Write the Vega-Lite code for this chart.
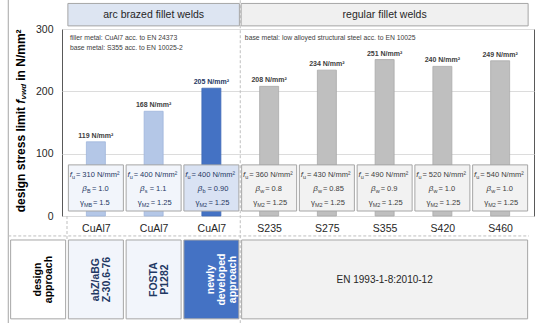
{
  "$schema": "https://vega.github.io/schema/vega-lite/v6.json",
  "width": 472,
  "height": 187,
  "autosize": {"type": "none"},
  "padding": {"left": 62, "top": 29, "right": 16, "bottom": 107},
  "background": "white",
  "config": {
    "view": {"stroke": "#595959", "strokeWidth": 1},
    "font": "Liberation Sans"
  },
  "datasets": {
    "welds": [
      {"col": 0, "material": "CuAl7", "fvwd": 119, "fu": 310, "betaSub": "B", "beta": "1.0", "gammaSub": "MB", "gamma": "1.5", "approach": "abZ/aBG Z-30.6-76"},
      {"col": 1, "material": "CuAl7", "fvwd": 168, "fu": 400, "betaSub": "s", "beta": "1.1", "gammaSub": "M2", "gamma": "1.25", "approach": "FOSTA P1282"},
      {"col": 2, "material": "CuAl7", "fvwd": 205, "fu": 400, "betaSub": "b", "beta": "0.90", "gammaSub": "M2", "gamma": "1.25", "approach": "newly developed approach"},
      {"col": 3, "material": "S235", "fvwd": 208, "fu": 360, "betaSub": "w", "beta": "0.8", "gammaSub": "M2", "gamma": "1.25", "approach": "EN 1993-1-8:2010-12"},
      {"col": 4, "material": "S275", "fvwd": 234, "fu": 430, "betaSub": "w", "beta": "0.85", "gammaSub": "M2", "gamma": "1.25", "approach": "EN 1993-1-8:2010-12"},
      {"col": 5, "material": "S355", "fvwd": 251, "fu": 490, "betaSub": "w", "beta": "0.9", "gammaSub": "M2", "gamma": "1.25", "approach": "EN 1993-1-8:2010-12"},
      {"col": 6, "material": "S420", "fvwd": 240, "fu": 520, "betaSub": "w", "beta": "1.0", "gammaSub": "M2", "gamma": "1.25", "approach": "EN 1993-1-8:2010-12"},
      {"col": 7, "material": "S460", "fvwd": 249, "fu": 540, "betaSub": "w", "beta": "1.0", "gammaSub": "M2", "gamma": "1.25", "approach": "EN 1993-1-8:2010-12"}
    ],
    "groups": [
      {"group": "arc brazed fillet welds", "first": 0, "last": 2, "mid": 1},
      {"group": "regular fillet welds", "first": 3, "last": 7, "mid": 5}
    ],
    "approaches": [
      {"approach": "design\napproach", "first": -1, "last": -1, "mid": -1},
      {"approach": "abZ/aBG\nZ-30.6-76", "first": 0, "last": 0, "mid": 0},
      {"approach": "FOSTA\nP1282", "first": 1, "last": 1, "mid": 1},
      {"approach": "newly\ndeveloped\napproach", "first": 2, "last": 2, "mid": 2},
      {"approach": "EN 1993-1-8:2010-12", "first": 3, "last": 7, "mid": 5}
    ]
  },
  "resolve": {"scale": {"fill": "independent", "stroke": "independent", "color": "independent"}},
  "layer": [
    {
      "data": {"values": [{}]},
      "mark": {"type": "rule", "color": "#a6a6a6", "strokeWidth": 1},
      "encoding": {"x": {"datum": -1.517}, "y": {"datum": -172}, "y2": {"datum": 347}}
    },
    {
      "data": {"values": [{}]},
      "mark": {"type": "rule", "color": "#bfbfbf", "strokeDash": [3, 2], "strokeWidth": 1},
      "encoding": {"x": {"datum": 2.5}, "y": {"datum": -172}, "y2": {"datum": 347}}
    },
    {
      "data": {"values": [{}]},
      "mark": {"type": "rule", "color": "#bfbfbf", "strokeDash": [3, 2], "strokeWidth": 1},
      "encoding": {"x": {"datum": -0.5}, "y": {"datum": 0}, "y2": {"datum": -38.5}}
    },
    {
      "data": {"values": [{}]},
      "mark": {"type": "rule", "color": "#bfbfbf", "strokeDash": [3, 2], "strokeWidth": 1},
      "encoding": {"x": {"datum": -1.517}, "x2": {"datum": 7.5}, "y": {"datum": -32}}
    },
    {
      "data": {"name": "groups"},
      "mark": {"type": "rect", "xOffset": -28, "x2Offset": 28, "stroke": "#a6a6a6", "strokeWidth": 1},
      "encoding": {
        "x": {"field": "first", "type": "quantitative", "title": null},
        "x2": {"field": "last"},
        "y": {"datum": 305},
        "y2": {"datum": 341},
        "fill": {"condition": {"test": "datum.first == 0", "value": "#dde5f2"}, "value": "#f0f0f0"}
      }
    },
    {
      "data": {"name": "groups"},
      "mark": {"type": "text", "fontSize": 10.5, "color": "#262626", "baseline": "middle"},
      "encoding": {
        "x": {"field": "mid", "type": "quantitative", "title": null},
        "y": {"datum": 323},
        "text": {"field": "group"}
      }
    },
    {
      "data": {"values": [{}]},
      "mark": {"type": "text", "text": "filler metal: CuAl7 acc. to EN 24373", "align": "left", "baseline": "middle", "fontSize": 6.8, "color": "#404040"},
      "encoding": {"x": {"datum": -0.45}, "y": {"datum": 285.6}}
    },
    {
      "data": {"values": [{}]},
      "mark": {"type": "text", "text": "base metal: S355 acc. to EN 10025-2", "align": "left", "baseline": "middle", "fontSize": 6.8, "color": "#404040"},
      "encoding": {"x": {"datum": -0.45}, "y": {"datum": 269.5}}
    },
    {
      "data": {"values": [{}]},
      "mark": {"type": "text", "text": "base metal: low alloyed structural steel acc. to EN 10025", "align": "left", "baseline": "middle", "fontSize": 6.8, "color": "#404040"},
      "encoding": {"x": {"datum": 2.58}, "y": {"datum": 285.6}}
    },
    {
      "data": {"name": "welds"},
      "mark": {"type": "bar", "size": 19, "strokeWidth": 0.8},
      "encoding": {
        "x": {
          "field": "col", "type": "quantitative", "title": null,
          "scale": {"domain": [-0.5, 7.5], "nice": false, "zero": false},
          "axis": {
            "values": [0, 1, 2, 3, 4, 5, 6, 7],
            "labelExpr": "['CuAl7','CuAl7','CuAl7','S235','S275','S355','S420','S460'][datum.value]",
            "domain": false, "ticks": false, "grid": false,
            "labelFontSize": 10.5, "labelColor": "#262626",
            "labelPadding": 7, "title": null
          }
        },
        "y": {
          "field": "fvwd", "type": "quantitative", "title": null,
          "scale": {"domain": [0, 300], "nice": false, "zero": true},
          "axis": {
            "values": [0, 50, 100, 150, 200, 250, 300],
            "domain": false, "ticks": false, "grid": true, "gridColor": "#dcdcdc",
            "labelFontSize": 10.5, "labelColor": "#262626",
            "labelPadding": 9, "title": null
          }
        },
        "color": {
          "field": "approach", "type": "nominal", "legend": null,
          "scale": {"domain": ["abZ/aBG Z-30.6-76", "FOSTA P1282", "newly developed approach", "EN 1993-1-8:2010-12"], "range": ["#b4c7e7", "#b4c7e7", "#4472c4", "#bfbfbf"]}
        },
        "stroke": {
          "field": "approach", "type": "nominal", "legend": null,
          "scale": {"domain": ["abZ/aBG Z-30.6-76", "FOSTA P1282", "newly developed approach", "EN 1993-1-8:2010-12"], "range": ["#9fb5dc", "#9fb5dc", "#3d68b5", "#a9a9a9"]}
        }
      }
    },
    {
      "data": {"name": "welds"},
      "mark": {"type": "text", "baseline": "bottom", "dy": -3, "fontSize": 7, "fontWeight": "bold", "text": {"expr": "datum.fvwd + ' N/mm²'"}},
      "encoding": {
        "x": {"field": "col", "type": "quantitative", "title": null},
        "y": {"field": "fvwd", "type": "quantitative", "title": null},
        "color": {"condition": {"test": "datum.col == 2", "value": "#1f3864"}, "value": "#404040"}
      }
    },
    {
      "data": {"name": "welds"},
      "mark": {"type": "bar", "size": 55, "strokeWidth": 1, "stroke": "#a6a6a6"},
      "encoding": {
        "x": {"field": "col", "type": "quantitative", "title": null},
        "y": {"datum": 8},
        "y2": {"datum": 82},
        "fill": {
          "field": "approach", "type": "nominal", "legend": null,
          "scale": {"domain": ["abZ/aBG Z-30.6-76", "FOSTA P1282", "newly developed approach", "EN 1993-1-8:2010-12"], "range": ["#f2f5fb", "#f2f5fb", "#d9e2f3", "#f2f2f2"]}
        }
      }
    },
    {
      "data": {"name": "welds"},
      "mark": {"type": "text", "text": "f", "align": "right", "dx": -24, "baseline": "middle", "fontSize": 8, "fontStyle": "italic"},
      "encoding": {
        "x": {"field": "col", "type": "quantitative", "title": null}, "y": {"datum": 66},
        "color": {"condition": {"test": "datum.col <= 2", "value": "#1f3864"}, "value": "#404040"}
      }
    },
    {
      "data": {"name": "welds"},
      "mark": {"type": "text", "text": "u", "align": "left", "dx": -24, "dy": 2, "baseline": "middle", "fontSize": 5.5},
      "encoding": {
        "x": {"field": "col", "type": "quantitative", "title": null}, "y": {"datum": 66},
        "color": {"condition": {"test": "datum.col <= 2", "value": "#1f3864"}, "value": "#404040"}
      }
    },
    {
      "data": {"name": "welds"},
      "mark": {"type": "text", "align": "left", "dx": -20, "baseline": "middle", "fontSize": 7.5, "text": {"expr": "'= ' + datum.fu + ' N/mm²'"}},
      "encoding": {
        "x": {"field": "col", "type": "quantitative", "title": null}, "y": {"datum": 66},
        "color": {"condition": {"test": "datum.col <= 2", "value": "#1f3864"}, "value": "#404040"}
      }
    },
    {
      "data": {"name": "welds"},
      "mark": {"type": "text", "text": "β", "align": "right", "dx": -9, "baseline": "middle", "fontSize": 8, "fontStyle": "italic"},
      "encoding": {
        "x": {"field": "col", "type": "quantitative", "title": null}, "y": {"datum": 43},
        "color": {"condition": {"test": "datum.col <= 2", "value": "#1f3864"}, "value": "#404040"}
      }
    },
    {
      "data": {"name": "welds"},
      "mark": {"type": "text", "align": "left", "dx": -9, "dy": 2, "baseline": "middle", "fontSize": 5.5},
      "encoding": {
        "x": {"field": "col", "type": "quantitative", "title": null}, "y": {"datum": 43},
        "text": {"field": "betaSub"},
        "color": {"condition": {"test": "datum.col <= 2", "value": "#1f3864"}, "value": "#404040"}
      }
    },
    {
      "data": {"name": "welds"},
      "mark": {"type": "text", "align": "left", "dx": -4, "baseline": "middle", "fontSize": 7.5, "text": {"expr": "'= ' + datum.beta"}},
      "encoding": {
        "x": {"field": "col", "type": "quantitative", "title": null}, "y": {"datum": 43},
        "color": {"condition": {"test": "datum.col <= 2", "value": "#1f3864"}, "value": "#404040"}
      }
    },
    {
      "data": {"name": "welds"},
      "mark": {"type": "text", "text": "γ", "align": "right", "dx": -12, "baseline": "middle", "fontSize": 8},
      "encoding": {
        "x": {"field": "col", "type": "quantitative", "title": null}, "y": {"datum": 21},
        "color": {"condition": {"test": "datum.col <= 2", "value": "#1f3864"}, "value": "#404040"}
      }
    },
    {
      "data": {"name": "welds"},
      "mark": {"type": "text", "align": "left", "dx": -12, "dy": 2, "baseline": "middle", "fontSize": 5.5},
      "encoding": {
        "x": {"field": "col", "type": "quantitative", "title": null}, "y": {"datum": 21},
        "text": {"field": "gammaSub"},
        "color": {"condition": {"test": "datum.col <= 2", "value": "#1f3864"}, "value": "#404040"}
      }
    },
    {
      "data": {"name": "welds"},
      "mark": {"type": "text", "align": "left", "dx": -3, "baseline": "middle", "fontSize": 7.5, "text": {"expr": "'= ' + datum.gamma"}},
      "encoding": {
        "x": {"field": "col", "type": "quantitative", "title": null}, "y": {"datum": 21},
        "color": {"condition": {"test": "datum.col <= 2", "value": "#1f3864"}, "value": "#404040"}
      }
    },
    {
      "data": {"name": "approaches"},
      "mark": {"type": "rect", "xOffset": -27.5, "x2Offset": 27.5, "stroke": "#a6a6a6", "strokeWidth": 1},
      "encoding": {
        "x": {"field": "first", "type": "quantitative", "title": null},
        "x2": {"field": "last"},
        "y": {"datum": -38.5},
        "y2": {"datum": -165},
        "fill": {
          "field": "approach", "type": "nominal", "legend": null,
          "scale": {"domain": ["design\napproach", "abZ/aBG\nZ-30.6-76", "FOSTA\nP1282", "newly\ndeveloped\napproach", "EN 1993-1-8:2010-12"], "range": ["#ffffff", "#f2f5fb", "#f2f5fb", "#4472c4", "#f2f2f2"]}
        }
      }
    },
    {
      "data": {"name": "approaches"},
      "transform": [{"filter": "datum.first == datum.last"}],
      "mark": {"type": "text", "angle": 270, "align": "center", "baseline": "middle", "lineBreak": "\n", "fontSize": 10.5, "fontWeight": "bold", "lineHeight": 11},
      "encoding": {
        "x": {"field": "mid", "type": "quantitative", "title": null},
        "y": {"datum": -102},
        "text": {"field": "approach"},
        "color": {"condition": [{"test": "datum.first == 2", "value": "#ffffff"}, {"test": "datum.first == -1", "value": "#000000"}], "value": "#1f3864"}
      }
    },
    {
      "data": {"name": "approaches"},
      "transform": [{"filter": "datum.first != datum.last"}],
      "mark": {"type": "text", "align": "center", "baseline": "middle", "fontSize": 10, "color": "#262626"},
      "encoding": {
        "x": {"field": "mid", "type": "quantitative", "title": null},
        "y": {"datum": -102},
        "text": {"field": "approach"}
      }
    },
    {
      "data": {"values": [{}]},
      "mark": {"type": "text", "text": "design stress limit", "angle": 270, "align": "left", "baseline": "middle", "fontSize": 12, "fontWeight": "bold", "color": "#000000"},
      "encoding": {"x": {"datum": -1.3}, "y": {"datum": 6}}
    },
    {
      "data": {"values": [{}]},
      "mark": {"type": "text", "text": "f", "angle": 270, "align": "left", "baseline": "middle", "fontSize": 12, "fontWeight": "bold", "fontStyle": "italic", "color": "#000000"},
      "encoding": {"x": {"datum": -1.3}, "y": {"datum": 180}}
    },
    {
      "data": {"values": [{}]},
      "mark": {"type": "text", "text": "vwd", "angle": 270, "align": "left", "baseline": "middle", "dy": 3, "fontSize": 8, "fontWeight": "bold", "fontStyle": "italic", "color": "#000000"},
      "encoding": {"x": {"datum": -1.3}, "y": {"datum": 187}}
    },
    {
      "data": {"values": [{}]},
      "mark": {"type": "text", "text": "in N/mm²", "angle": 270, "align": "left", "baseline": "middle", "fontSize": 12, "fontWeight": "bold", "color": "#000000"},
      "encoding": {"x": {"datum": -1.3}, "y": {"datum": 217}}
    }
  ]
}
